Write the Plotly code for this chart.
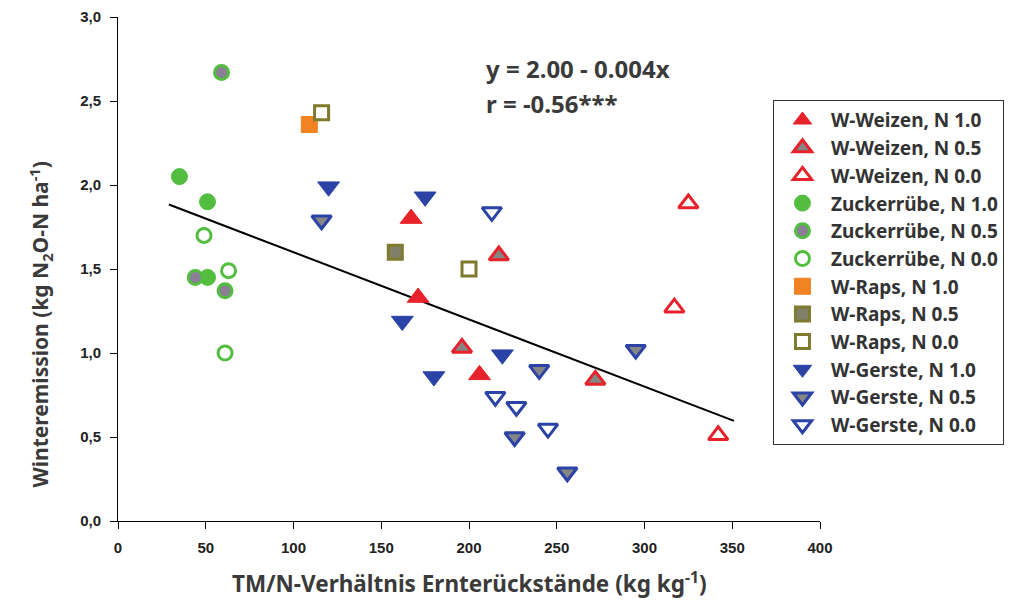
import plotly.graph_objects as go

# ---- data ----
ww10_x = [167, 171, 206]
ww10_y = [1.80, 1.33, 0.87]
ww05_x = [217, 196, 272]
ww05_y = [1.58, 1.03, 0.84]
ww00_x = [325, 317, 342]
ww00_y = [1.89, 1.27, 0.51]

zr10_x = [35, 51, 51]
zr10_y = [2.05, 1.90, 1.45]
zr05_x = [59, 44, 61]
zr05_y = [2.67, 1.45, 1.37]
zr00_x = [49, 63, 61]
zr00_y = [1.70, 1.49, 1.00]

wr10_x = [109]
wr10_y = [2.36]
wr05_x = [158]
wr05_y = [1.60]
wr00_x = [116, 200]
wr00_y = [2.43, 1.50]

wg10_x = [120, 175, 162, 180, 219]
wg10_y = [1.99, 1.93, 1.19, 0.86, 0.99]
wg05_x = [116, 240, 226, 256, 295]
wg05_y = [1.79, 0.90, 0.50, 0.29, 1.02]
wg00_x = [213, 215, 227, 245]
wg00_y = [1.84, 0.74, 0.68, 0.55]

fit_intercept = 2.00
fit_slope = -0.004
fit_x = [29, 351]

x_ticks = [0, 50, 100, 150, 200, 250, 300, 350, 400]
x_labels = ["0", "50", "100", "150", "200", "250", "300", "350", "400"]
y_ticks = [0.0, 0.5, 1.0, 1.5, 2.0, 2.5, 3.0]
y_labels = ["0,0", "0,5", "1,0", "1,5", "2,0", "2,5", "3,0"]

RED = "#e8222b"
GREEN = "#52bd3f"
ORANGE = "#f28322"
OLIVE = "#7f7b2e"
BLUE = "#2b43a6"
GRAY = "#858585"
WHITE = "#ffffff"

fig = go.Figure()

fit_y = [fit_intercept + fit_slope * v for v in fit_x]
fig.add_trace(go.Scatter(x=fit_x, y=fit_y, mode="lines",
                         line=dict(color="black", width=2), showlegend=False,
                         hoverinfo="skip"))

def add(name, xs, ys, symbol, fill, line, size, lw):
    fig.add_trace(go.Scatter(
        x=xs, y=ys, mode="markers", name=name,
        marker=dict(symbol=symbol, size=size, color=fill,
                    line=dict(color=line, width=lw))))

add("W-Weizen, N 1.0", ww10_x, ww10_y, "triangle-up", RED, RED, 19, 1)
add("W-Weizen, N 0.5", ww05_x, ww05_y, "triangle-up", GRAY, RED, 17, 3)
add("W-Weizen, N 0.0", ww00_x, ww00_y, "triangle-up", WHITE, RED, 17, 3)
add("Zuckerrübe, N 1.0", zr10_x, zr10_y, "circle", GREEN, GREEN, 16, 1)
add("Zuckerrübe, N 0.5", zr05_x, zr05_y, "circle", "#8a7f95", GREEN, 14, 3)
add("Zuckerrübe, N 0.0", zr00_x, zr00_y, "circle", WHITE, GREEN, 14, 3)
add("W-Raps, N 1.0", wr10_x, wr10_y, "square", ORANGE, ORANGE, 16, 1)
add("W-Raps, N 0.5", wr05_x, wr05_y, "square", "#80806a", OLIVE, 14, 3)
add("W-Raps, N 0.0", wr00_x, wr00_y, "square", WHITE, OLIVE, 14, 3)
add("W-Gerste, N 1.0", wg10_x, wg10_y, "triangle-down", BLUE, BLUE, 19, 1)
add("W-Gerste, N 0.5", wg05_x, wg05_y, "triangle-down", GRAY, BLUE, 17, 3)
add("W-Gerste, N 0.0", wg00_x, wg00_y, "triangle-down", WHITE, BLUE, 17, 3)

TXT = "#3a3a3a"
tick_font = dict(family="Arial", size=15, color="#222222")

fig.update_layout(
    width=1031, height=603,
    margin=dict(l=118, r=211, t=17, b=82),
    paper_bgcolor="white", plot_bgcolor="white",
    showlegend=True,
    legend=dict(x=0.933, y=0.835, xanchor="left", yanchor="top",
                bordercolor="#333333", borderwidth=1, bgcolor="white",
                font=dict(family="Noto Sans", size=19, color="#333333", weight="bold"),
                tracegroupgap=0, itemwidth=47),
    xaxis=dict(range=[0, 400], tickmode="array", tickvals=x_ticks,
               ticktext=["<b>%s</b>" % t for t in x_labels],
               ticks="outside", ticklen=7,
               tickcolor="black", showline=True, linecolor="black", linewidth=1,
               showgrid=False, zeroline=False, tickfont=tick_font,
               ticklabelstandoff=6, automargin=False),
    yaxis=dict(range=[0, 3], tickmode="array", tickvals=y_ticks,
               ticktext=["<b>%s</b>" % t for t in y_labels],
               ticks="outside",
               ticklen=7, tickcolor="black", showline=True, linecolor="black",
               linewidth=1, showgrid=False, zeroline=False, tickfont=tick_font,
               ticklabelstandoff=6, automargin=False),
    annotations=[
        dict(x=0.5, y=-0.123, xref="paper", yref="paper", xanchor="center", yanchor="middle",
             text="<b>TM/N-Verhältnis Ernterückstände (kg kg<sup>-1</sup>)</b>",
             showarrow=False, font=dict(family="Noto Sans", size=22.5, color=TXT)),
        dict(x=-0.111, y=0.39, xref="paper", yref="paper", xanchor="center", yanchor="middle",
             textangle=-90,
             text="<b>Winteremission (kg N<sub>2</sub>O-N ha<sup>-1</sup>)</b>",
             showarrow=False, font=dict(family="Noto Sans", size=21, color=TXT)),
        dict(x=0.521, y=0.897, xref="paper", yref="paper", xanchor="left", yanchor="middle",
             text="<b>y = 2.00 - 0.004x</b>", showarrow=False,
             font=dict(family="Noto Sans", size=24, color=TXT)),
        dict(x=0.521, y=0.828, xref="paper", yref="paper", xanchor="left", yanchor="middle",
             text="<b>r = -0.56***</b>", showarrow=False,
             font=dict(family="Noto Sans", size=24, color=TXT)),
    ],
)

fig.write_html("out.html")
